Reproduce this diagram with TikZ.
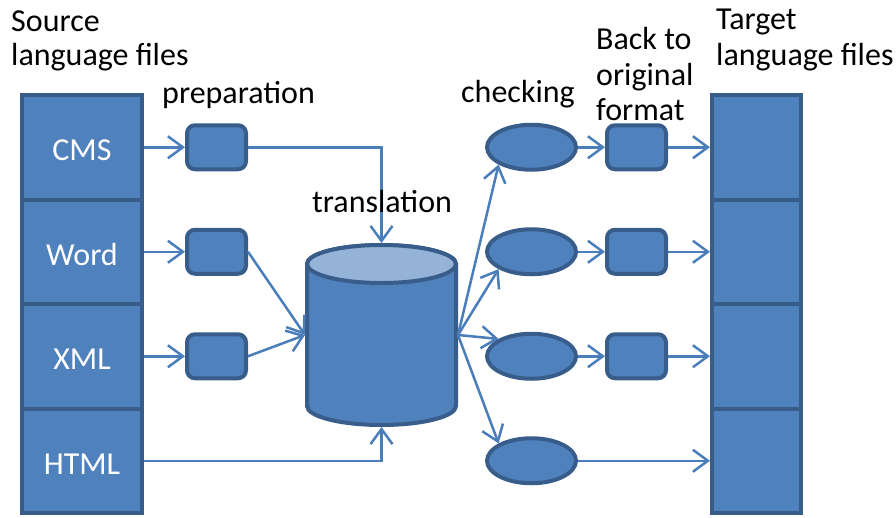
\documentclass[tikz,border=0pt]{standalone}
\usepackage{fontspec}
\setmainfont{Carlito}
\usetikzlibrary{arrows.meta,shapes.geometric}
\definecolor{boxfill}{HTML}{4F81BD}
\definecolor{boxline}{HTML}{385D8A}
\definecolor{arrowc}{HTML}{4A7EBB}
\definecolor{dbtop}{HTML}{95B3D7}
\begin{document}
\begin{tikzpicture}[x=1pt,y=-1pt,
  lbl/.style={anchor=base west, inner sep=0pt, font=\fontsize{32}{38}\selectfont},
  colbox/.style={draw=boxline, fill=boxfill, line width=4pt, inner sep=0pt, text=white,
    font=\fontsize{32}{38}\selectfont, text height=27pt, text depth=0pt},
  lcol/.style={colbox, minimum width=120pt, minimum height=104.5pt},
  rcol/.style={colbox, minimum width=89pt, minimum height=104.5pt},
  smallbox/.style={draw=boxline, fill=boxfill, line width=4pt, rounded corners=8pt,
    minimum width=59pt, minimum height=44pt, inner sep=0pt},
  oval/.style={ellipse, draw=boxline, fill=boxfill, line width=4pt,
    minimum width=89pt, minimum height=45pt, inner sep=0pt},
  arr/.style={draw=arrowc, line width=2.5pt, -{Straight Barb[length=15pt,width=22pt]}}
]
\useasboundingbox (0,0) rectangle (896,517);

% source column
\node[lcol] (L1) at (82,147.25) {CMS};
\node[lcol] (L2) at (82,251.75) {Word};
\node[lcol] (L3) at (82,356.25) {XML};
\node[lcol] (L4) at (82,460.75) {HTML};

% target column
\node[rcol] (R1) at (756.5,147.25) {};
\node[rcol] (R2) at (756.5,251.75) {};
\node[rcol] (R3) at (756.5,356.25) {};
\node[rcol] (R4) at (756.5,460.75) {};

% preparation boxes
\node[smallbox] (P1) at (216.5,147.25) {};
\node[smallbox] (P2) at (216.5,251.75) {};
\node[smallbox] (P3) at (216.5,356.25) {};

% checking ovals
\node[oval] (E1) at (531.5,147.25) {};
\node[oval] (E2) at (531.5,251.75) {};
\node[oval] (E3) at (531.5,356.25) {};
\node[oval] (E4) at (531.5,460.75) {};

% back-to-format boxes
\node[smallbox] (Q1) at (636.5,147.25) {};
\node[smallbox] (Q2) at (636.5,251.75) {};
\node[smallbox] (Q3) at (636.5,356.25) {};

% translation database
\path[draw=boxline, fill=boxfill, line width=4pt]
  (307,264) -- (307,406) arc[start angle=180, end angle=360, x radius=74.5pt, y radius=19pt]
  -- (456,264) arc[start angle=0, end angle=180, x radius=74.5pt, y radius=19pt] -- cycle;
\path[draw=boxline, fill=dbtop, line width=4pt] (381.5,264) ellipse [x radius=74.5pt, y radius=19pt];
\node[minimum width=153pt, minimum height=184pt, inner sep=0pt, outer sep=0pt] (db) at (381.5,335) {};

% connectors
\draw[arr] (L1) -- (P1);
\draw[arr] (L2) -- (P2);
\draw[arr] (L3) -- (P3);
\draw[arr] (P1.east) -| (db.north);
\draw[arr] (P2.east) -- (db.west);
\draw[arr] (P3.east) -- (db.west);
\draw[arr] (L4.east) -| (db.south);
\draw[arr] (db.east) -- (E1.south west);
\draw[arr] (db.east) -- (E2.south west);
\draw[arr] (db.east) -- (E3.north west);
\draw[arr] (db.east) -- (E4.north west);
\draw[arr] (E1) -- (Q1);
\draw[arr] (E2) -- (Q2);
\draw[arr] (E3) -- (Q3);
\draw[arr] (Q1) -- (R1);
\draw[arr] (Q2) -- (R2);
\draw[arr] (Q3) -- (R3);
\draw[arr] (E4) -- (R4);

% labels
\node[lbl] (srcA) at (11,31) {Source};
\node[lbl] (srcB) at (11,65) {language files};
\node[lbl] (prep) at (162,103) {preparation};
\node[lbl] (trans) at (312,212) {translation};
\node[lbl] (check) at (461,102) {checking};
\node[lbl] (backA) at (596,49) {Back to};
\node[lbl] (backB) at (596,85) {original};
\node[lbl] (backC) at (596,120) {format};
\node[lbl] (tgtA) at (716,29) {Target};
\node[lbl] (tgtB) at (716,65) {language files};
\end{tikzpicture}
\end{document}
